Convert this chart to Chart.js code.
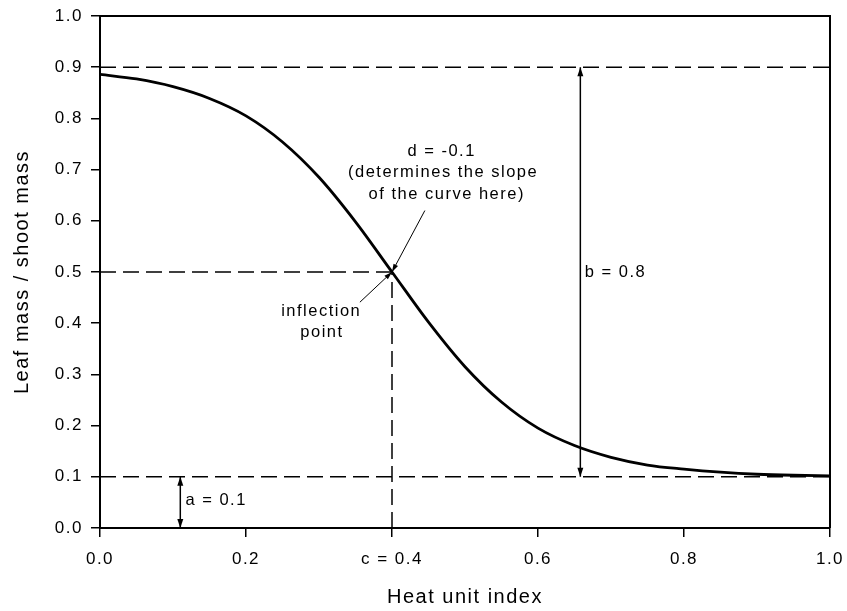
<!DOCTYPE html>
<html><head><meta charset="utf-8">
<script src="https://cdn.jsdelivr.net/npm/chart.js@4/dist/chart.umd.min.js"></script>
<style>html,body{margin:0;padding:0;background:#fff}canvas{display:block}</style>
</head><body>
<canvas id="c" width="847" height="611" style="width:847px;height:611px"></canvas>
<script>
// ---- data ----
const heatIndex = [0, 0.05, 0.10, 0.15, 0.20, 0.25, 0.30, 0.35, 0.40, 0.45, 0.50, 0.55, 0.60, 0.65, 0.70, 0.75, 0.80, 0.85, 0.90, 0.95, 1.00];
const leafRatio = [0.886, 0.877, 0.862, 0.839, 0.805, 0.754, 0.685, 0.598, 0.500, 0.402, 0.315, 0.246, 0.195, 0.161, 0.138, 0.123, 0.115, 0.109, 0.105, 0.103, 0.102];
const xTickLabels = ['0.0', '0.2', 'c = 0.4', '0.6', '0.8', '1.0'];
const paramA = 0.1;          // lower asymptote
const paramB = 0.8;          // range
const paramC = 0.4;          // inflection x
const inflectionY = 0.5;
const upperLevel = 0.9;      // a + b
const aArrowX = 0.11;
const bArrowX = 0.658;
const dLeaderStart = [0.445, 0.62];
const inflLeaderStart = [0.356, 0.441];
const dTextLines = ['d = -0.1', '(determines the slope', 'of the curve here)'];
const dTextPos = [[0.468, 0.736], [0.470, 0.694], [0.475, 0.652]];
const inflTextLines = ['inflection', 'point'];
const inflTextPos = [[0.303, 0.423], [0.304, 0.382]];
const bLabel = 'b = 0.8', bLabelPos = [0.664, 0.50];
const aLabel = 'a = 0.1', aLabelPos = [0.117, 0.054];

const FONT = '"Liberation Sans", Arial, sans-serif';
const SPACING = '1.5px';

const curve = heatIndex.map((x, i) => ({x, y: leafRatio[i]}));
const seg = (x1, y1, x2, y2) => [{x: x1, y: y1}, {x: x2, y: y2}];

const dashed = {borderColor: '#000', borderWidth: 1.5, borderDash: [16, 7], pointRadius: 0, showLine: true, fill: false};
const thin = {borderColor: '#000', borderWidth: 1.5, pointRadius: 0, showLine: true, fill: false};

const datasets = [
  Object.assign({data: seg(0, upperLevel, 1, upperLevel)}, dashed),
  Object.assign({data: seg(0, paramA, 1, paramA)}, dashed),
  Object.assign({data: seg(0, inflectionY, paramC, inflectionY)}, dashed),
  Object.assign({data: seg(paramC, 0, paramC, inflectionY)}, dashed),
  Object.assign({data: seg(aArrowX, 0, aArrowX, paramA), arrowEnds: 'both'}, thin),
  Object.assign({data: seg(bArrowX, paramA, bArrowX, paramA + paramB), arrowEnds: 'both'}, thin),
  Object.assign({data: seg(dLeaderStart[0], dLeaderStart[1], paramC, inflectionY), arrowEnds: 'end'}, thin, {borderWidth: 1}),
  Object.assign({data: seg(inflLeaderStart[0], inflLeaderStart[1], paramC, inflectionY), arrowEnds: 'end'}, thin, {borderWidth: 1}),
  {data: curve, borderColor: '#000', borderWidth: 2.8, pointRadius: 0, showLine: true, fill: false, cubicInterpolationMode: 'monotone'}
];

function arrowHead(ctx, tip, from, len, half) {
  const dx = tip.x - from.x, dy = tip.y - from.y;
  const L = Math.hypot(dx, dy) || 1;
  const ux = dx / L, uy = dy / L;
  const bx = tip.x - ux * len, by = tip.y - uy * len;
  ctx.beginPath();
  ctx.moveTo(tip.x, tip.y);
  ctx.lineTo(bx - uy * half, by + ux * half);
  ctx.lineTo(bx + uy * half, by - ux * half);
  ctx.closePath();
  ctx.fill();
}

const spacingPlugin = {
  id: 'spacing',
  beforeLayout(chart) { chart.ctx.letterSpacing = SPACING; },
  beforeDraw(chart) { chart.ctx.letterSpacing = SPACING; }
};

const decorPlugin = {
  id: 'decor',
  afterDatasetsDraw(chart) {
    const ctx = chart.ctx;
    const xs = chart.scales.x, ys = chart.scales.y;
    ctx.save();
    ctx.fillStyle = '#000';
    chart.data.datasets.forEach((ds, i) => {
      if (!ds.arrowEnds) return;
      const pts = chart.getDatasetMeta(i).data;
      const p0 = pts[0], p1 = pts[pts.length - 1];
      const small = ds.arrowEnds === 'end';
      const len = small ? 8 : 9, half = small ? 2.5 : 3;
      arrowHead(ctx, p1, p0, len, half);
      if (ds.arrowEnds === 'both') arrowHead(ctx, p0, p1, len, half);
    });
    // frame top and right
    const a = chart.chartArea;
    ctx.strokeStyle = '#000';
    ctx.lineWidth = 2;
    ctx.beginPath();
    ctx.moveTo(a.left, a.top);
    ctx.lineTo(a.right, a.top);
    ctx.lineTo(a.right, a.bottom);
    ctx.stroke();
    // text annotations
    ctx.letterSpacing = SPACING;
    ctx.font = '16.5px ' + FONT;
    ctx.textBaseline = 'middle';
    ctx.textAlign = 'center';
    dTextLines.forEach((t, i) => ctx.fillText(t, xs.getPixelForValue(dTextPos[i][0]), ys.getPixelForValue(dTextPos[i][1])));
    inflTextLines.forEach((t, i) => ctx.fillText(t, xs.getPixelForValue(inflTextPos[i][0]), ys.getPixelForValue(inflTextPos[i][1])));
    ctx.textAlign = 'left';
    ctx.fillText(bLabel, xs.getPixelForValue(bLabelPos[0]), ys.getPixelForValue(bLabelPos[1]));
    ctx.fillText(aLabel, xs.getPixelForValue(aLabelPos[0]), ys.getPixelForValue(aLabelPos[1]));
    ctx.restore();
  }
};

new Chart(document.getElementById('c'), {
  type: 'scatter',
  data: {datasets},
  plugins: [spacingPlugin, decorPlugin],
  options: {
    responsive: false,
    animation: false,
    events: [],
    layout: {padding: {top: 16, right: 17, left: 0, bottom: 0}},
    plugins: {legend: {display: false}, tooltip: {enabled: false}},
    scales: {
      x: {
        type: 'linear', min: 0, max: 1,
        afterFit(s) { s.height = 83; s.paddingLeft = 0; s.paddingRight = 0; },
        ticks: {stepSize: 0.2, color: '#000', padding: 12, font: {family: FONT, size: 17},
          callback: (v, i) => xTickLabels[i]},
        grid: {drawOnChartArea: false, drawTicks: true, tickLength: 9, color: '#000', lineWidth: 1.5},
        border: {display: true, color: '#000', width: 2},
        title: {display: true, text: 'Heat unit index', color: '#000', font: {family: FONT, size: 20}, padding: {top: 0, bottom: 2}}
      },
      y: {
        type: 'linear', min: 0, max: 1,
        afterFit(s) { s.width = 100; s.paddingTop = 0; s.paddingBottom = 0; },
        ticks: {stepSize: 0.1, color: '#000', padding: 8, font: {family: FONT, size: 17},
          callback: v => v.toFixed(1)},
        grid: {drawOnChartArea: false, drawTicks: true, tickLength: 9, color: '#000', lineWidth: 1.5},
        border: {display: true, color: '#000', width: 2},
        title: {display: true, text: 'Leaf mass / shoot mass', color: '#000', font: {family: FONT, size: 20}, padding: {top: 10, bottom: 0}}
      }
    }
  }
});
</script>
</body></html>
